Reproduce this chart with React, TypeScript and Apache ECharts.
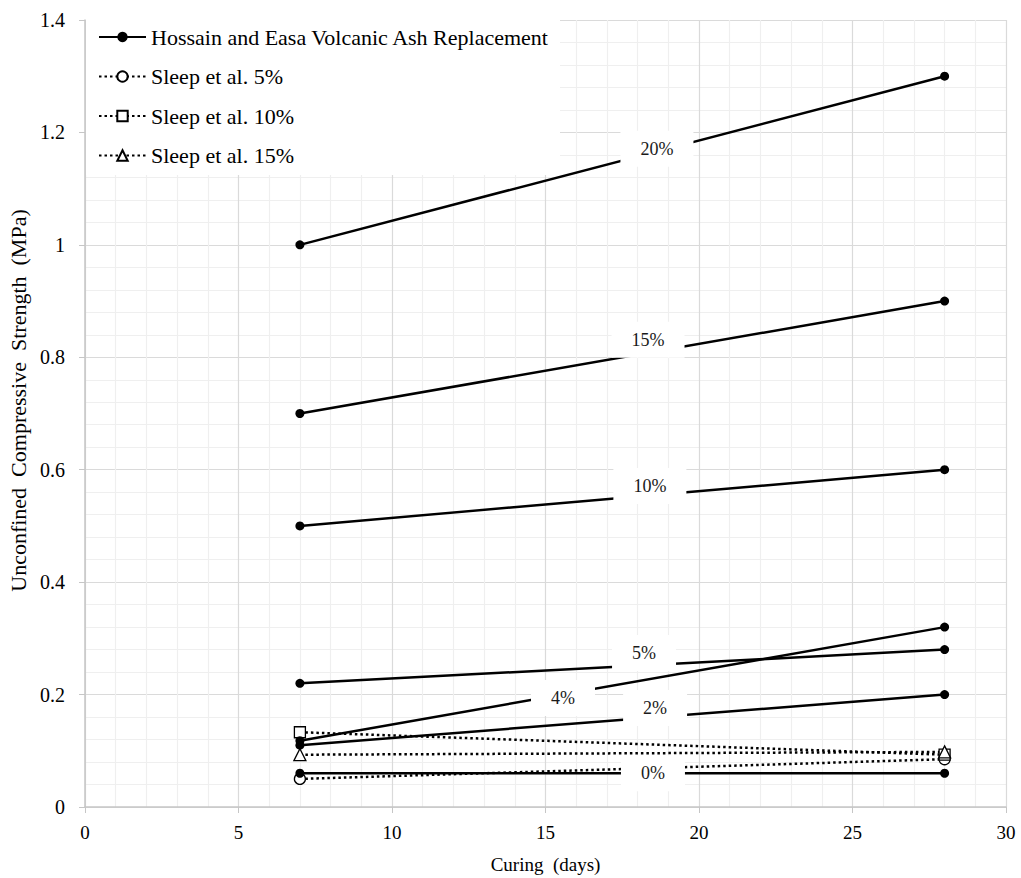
import React, { useEffect, useRef } from "react";
import * as echarts from "echarts";

const days = [7, 28];
const hossainNames = ["0%", "2%", "4%", "5%", "10%", "15%", "20%"];
const hossain0 = [0.06, 0.06];
const hossain2 = [0.11, 0.2];
const hossain4 = [0.118, 0.32];
const hossain5 = [0.22, 0.28];
const hossain10 = [0.5, 0.6];
const hossain15 = [0.7, 0.9];
const hossain20 = [1.0, 1.3];
const hossainValues = [hossain0, hossain2, hossain4, hossain5, hossain10, hossain15, hossain20];

const sleep5 = [0.05, 0.085];
const sleep10 = [0.133, 0.093];
const sleep15 = [0.093, 0.098];

// label anchors (days, MPa) for the percentage labels
const labelX = [18.5, 18.57, 15.57, 18.21, 18.4, 18.34, 18.63];
const labelY = [0.06, 0.176, 0.194, 0.274, 0.571, 0.831, 1.171];

const HOSSAIN = "Hossain and Easa Volcanic Ash Replacement";
const SLEEP5 = "Sleep et al. 5%";
const SLEEP10 = "Sleep et al. 10%";
const SLEEP15 = "Sleep et al. 15%";

const FONT = "Liberation Serif";

export default function App() {
  const ref = useRef<HTMLDivElement>(null);
  useEffect(() => {
    if (!ref.current) return;
    const chart = echarts.init(ref.current, undefined, { renderer: "svg" });
    const pair = (vals: number[]) => days.map((d, i) => [d, vals[i]]);

    const sleepSeries = [
      { name: SLEEP5, vals: sleep5, symbol: "circle", size: 11 },
      { name: SLEEP10, vals: sleep10, symbol: "rect", size: 11 },
      { name: SLEEP15, vals: sleep15, symbol: "triangle", size: 12 },
    ].map((s) => ({
      type: "line",
      name: s.name,
      data: pair(s.vals),
      symbol: s.symbol,
      symbolSize: s.size,
      z: 2,
      lineStyle: { color: "#000", width: 2.5, type: [2.5, 3] },
      itemStyle: { color: "#fff", borderColor: "#000", borderWidth: 1.3 },
    }));

    const hossainSeries = hossainValues.map((vals) => ({
      type: "line",
      name: HOSSAIN,
      data: pair(vals),
      symbol: "circle",
      symbolSize: 9,
      z: 3,
      lineStyle: { color: "#000", width: 2.5 },
      itemStyle: { color: "#000", borderColor: "#000", borderWidth: 0 },
    }));

    const labelSeries = {
      type: "scatter",
      name: "labels",
      symbolSize: 0,
      z: 8,
      silent: true,
      itemStyle: { opacity: 1 },
      data: hossainNames.map((n, i) => ({ value: [labelX[i], labelY[i]], name: n })),
      label: {
        show: true,
        position: "inside",
        opacity: 1,
        formatter: (p: any) => p.name,
        fontFamily: FONT,
        fontSize: 18,
        color: "#1a1a1a",
        backgroundColor: "#fff",
        padding: [9, 20],
      },
    };

    const legendText = { fontFamily: FONT, fontSize: 22, color: "#000" };

    chart.setOption({
      animation: false,
      backgroundColor: "#fff",
      textStyle: { fontFamily: FONT },
      grid: { left: 85, right: 15, top: 20, bottom: 71, containLabel: false, outerBoundsMode: "none" },
      xAxis: {
        type: "value",
        min: 0,
        max: 30,
        interval: 5,
        name: "Curing  (days)",
        nameLocation: "middle",
        nameGap: 48,
        nameTextStyle: { fontFamily: FONT, fontSize: 19, color: "#000" },
        axisLine: { show: true, lineStyle: { color: "#c6c6c6", width: 1.5 } },
        axisTick: { show: true, length: 6, lineStyle: { color: "#c6c6c6" } },
        axisLabel: { fontFamily: FONT, fontSize: 19, color: "#000", margin: 16 },
        splitLine: { show: true, lineStyle: { color: "#dadada", width: 1.2 } },
        minorTick: { show: false, splitNumber: 5 },
        minorSplitLine: { show: true, lineStyle: { color: "#efefef", width: 1.2 } },
      },
      yAxis: {
        type: "value",
        min: 0,
        max: 1.4,
        interval: 0.2,
        name: "Unconfined  Compressive  Strength  (MPa)",
        nameLocation: "middle",
        nameGap: 56,
        nameTextStyle: { fontFamily: FONT, fontSize: 22, color: "#000", padding: [0, 0, 0, 26] },
        axisLine: { show: true, lineStyle: { color: "#c6c6c6", width: 1.5 } },
        axisTick: { show: true, length: 6, lineStyle: { color: "#c6c6c6" } },
        axisLabel: { fontFamily: FONT, fontSize: 20, color: "#000", margin: 20 },
        splitLine: { show: true, lineStyle: { color: "#dadada", width: 1.2 } },
        minorTick: { show: false, splitNumber: 5 },
        minorSplitLine: { show: true, lineStyle: { color: "#efefef", width: 1.2 } },
      },
      legend: {
        show: true,
        orient: "vertical",
        left: 93,
        top: 21,
        z: 10,
        itemWidth: 47,
        itemHeight: 13,
        itemGap: 17.5,
        data: [HOSSAIN, SLEEP5, SLEEP10, SLEEP15].map((n) => ({ name: n, textStyle: legendText })),
        textStyle: legendText,
        selectedMode: false,
      },
      graphic: [
        {
          type: "rect",
          left: 86,
          top: 20,
          z: 9,
          shape: { width: 474, height: 155 },
          style: { fill: "#fff" },
        },
      ],
      series: [...sleepSeries, ...hossainSeries, labelSeries],
    });
    return () => chart.dispose();
  }, []);
  return (
    <div
      ref={ref}
      style={{ position: "absolute", left: 0, top: 0, width: 1021, height: 878 }}
    />
  );
}
